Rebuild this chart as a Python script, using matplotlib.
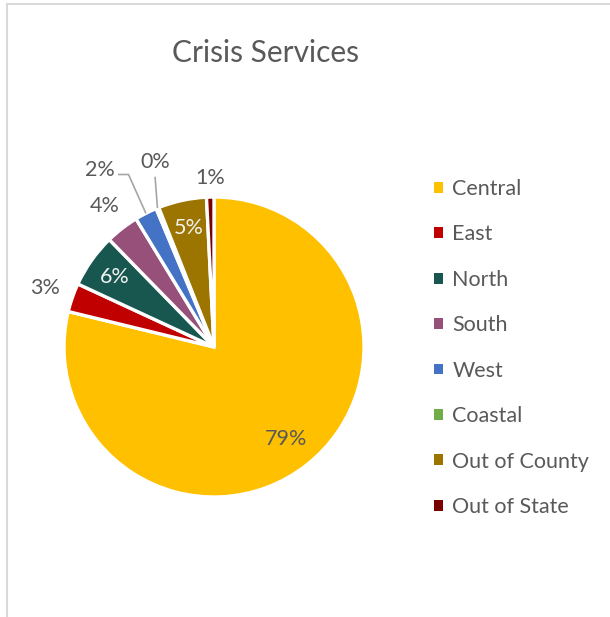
import matplotlib
matplotlib.use("Agg")
import matplotlib.pyplot as plt
import numpy as np
from matplotlib.lines import Line2D

# ---- data ----
categories = ["Central", "East", "North", "South", "West", "Coastal", "Out of County", "Out of State"]
values = [78.8, 3.1, 5.8, 3.6, 2.4, 0.3, 5.2, 0.8]
colors = ["#FFC000", "#C00000", "#18574F", "#975079", "#4472C4", "#70AD47", "#9C7400", "#7A0000"]
title = "Crisis Services"

FONT = "Lato"
TXT = "#595959"
LBL = 15.5

W, H = 610, 617
fig = plt.figure(figsize=(W / 100, H / 100), dpi=100)

# pie axes: centre (214,347) px, radius 150 px, limits +-1.3
lim = 1.3
cx, cy, rpx = 214, 347, 150
half = rpx * lim
ax = fig.add_axes([(cx - half) / W, (H - cy - half) / H, 2 * half / W, 2 * half / H])

wedges, _ = ax.pie(values, colors=colors, startangle=90, counterclock=False, radius=1.0,
                   wedgeprops=dict(edgecolor="white", linewidth=2.4))
ax.set_xlim(-lim, lim)
ax.set_ylim(-lim, lim)
ax.set_aspect("equal")
ax.axis("off")

# data labels: (placement mode, radius / explicit position, text colour)
label_cfg = {
    "Central": ("in", 0.78, TXT),
    "East": ("out", 1.19, TXT),
    "North": ("in", 0.81, "#F2F2F2"),
    "South": ("out", 1.19, TXT),
    "West": ("lead", (-0.76, 1.18), TXT),
    "Coastal": ("lead", (-0.393, 1.235), TXT),
    "Out of County": ("in", 0.81, "#F2F2F2"),
    "Out of State": ("out", 1.13, TXT),
}
total = sum(values)
for w, cat, v in zip(wedges, categories, values):
    mode, pos, col = label_cfg[cat]
    mid = np.deg2rad((w.theta1 + w.theta2) / 2)
    txt = f"{v / total * 100:.0f}%"
    if mode in ("in", "out"):
        x, y = pos * np.cos(mid), pos * np.sin(mid)
        ax.text(x, y, txt, ha="center", va="center", fontsize=LBL, color=col, family=FONT)
    else:
        lx, ly = pos
        ax.text(lx, ly, txt, ha="center", va="center", fontsize=LBL, color=col, family=FONT)
        ex, ey = 1.0 * np.cos(mid), 1.0 * np.sin(mid)
        if cat == "West":
            xs = [lx + 0.12, lx + 0.19, ex]
            ys = [ly - 0.03, ly - 0.03, ey]
        else:
            xs = [lx, ex]
            ys = [ly - 0.10, ey]
        ax.plot(xs, ys, color="#A6A6A6", lw=1.2, solid_capstyle="butt")

# title
fig.text(266 / W, 1 - 62 / H, title, ha="center", va="baseline", fontsize=21.5, color=TXT, family=FONT)

# legend
leg = fig.legend(wedges, categories, loc="center left", bbox_to_anchor=(434 / W, 1 - 348 / H),
                 bbox_transform=fig.transFigure, frameon=False, borderpad=0, borderaxespad=0,
                 handlelength=0.4, handleheight=0.4, handletextpad=0.45, labelspacing=1.18,
                 prop=dict(family=FONT, size=15.5))
for t in leg.get_texts():
    t.set_color(TXT)
for h in leg.legend_handles:
    h.set_edgecolor("none")

# chart border (left and top visible)
fig.add_artist(Line2D([6.5 / W, 6.5 / W], [0, 1 - 4 / H], transform=fig.transFigure, color="#D9D9D9", lw=1.5))
fig.add_artist(Line2D([6.5 / W, 1], [1 - 4 / H, 1 - 4 / H], transform=fig.transFigure, color="#D9D9D9", lw=1.5))

fig.savefig("out.png", dpi=100, facecolor="white")
